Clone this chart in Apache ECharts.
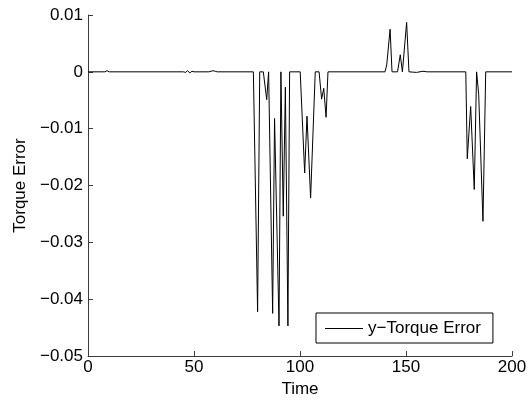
<!DOCTYPE html>
<html>
<head>
<meta charset="utf-8">
<script src="https://cdn.jsdelivr.net/npm/echarts@6/dist/echarts.min.js"></script>
<style>
  html, body { margin: 0; padding: 0; background: #fff; }
  #chart { width: 531px; height: 404px; }
</style>
</head>
<body>
<div id="chart"></div>
<script>
// Sample times and the y-axis torque error recorded at each of them
const time = [
  0, 8, 9, 10, 45, 46, 47, 48, 49, 50, 57, 58, 59, 60, 61,
  78, 80, 81, 82.7, 84.3, 85.2, 87.1, 88, 90.1, 91, 92.1, 93.1, 94.3, 95.1,
  100.1, 102.2, 103.3, 105, 107.2, 109, 110.2, 111.2, 112.3, 113.2,
  140.1, 140.9, 142.5, 143.4, 146, 147.3, 148.3, 150.3, 151.4, 155, 158, 160,
  178.2, 178.9, 180.5, 182.2, 183.3, 184.3, 186.3, 187.6, 200
];
const torqueErr = [
  0, 0, 0.0002, 0, 0, -0.0001, 0.0002, -0.0002, 0.0001, 0, 0, 0.0001, 0.0002, 0.0001, 0,
  0, -0.0422, 0, 0, -0.0049, 0, -0.0425, -0.0082, -0.0447, 0, -0.0254, -0.0027, -0.0447, 0,
  0, -0.0178, -0.0078, -0.0222, 0, 0, -0.0048, -0.0029, -0.008, 0,
  0, 0.0012, 0.0075, 0, 0, 0.003, 0, 0.0087, 0, -0.0001, 0.0001, 0,
  0, -0.0153, -0.0061, -0.0207, 0, -0.004, -0.0263, 0, 0
];
const xTicks = [0, 50, 100, 150, 200];
const yTicks = [-0.05, -0.04, -0.03, -0.02, -0.01, 0, 0.01];
const seriesName = 'y\u2212Torque Error';

const points = time.map((t, i) => [t, torqueErr[i]]);
const FONT = '"Liberation Sans", Arial, Helvetica, sans-serif';
const FS = 17;
const axisGray = '#3c3c3c';

function fmtY(v) {
  const r = Math.round(v * 100) / 100;
  if (r === 0) return '0';
  return r.toFixed(2).replace('-', '\u2212');
}

const chart = echarts.init(document.getElementById('chart'), null, { renderer: 'canvas' });
chart.setOption({
  animation: false,
  backgroundColor: '#ffffff',
  grid: { left: 88, right: 19, top: 15, bottom: 48, containLabel: false },
  xAxis: {
    type: 'value',
    min: xTicks[0],
    max: xTicks[xTicks.length - 1],
    interval: xTicks[1] - xTicks[0],
    name: 'Time',
    nameLocation: 'middle',
    nameGap: 25,
    nameTextStyle: { fontFamily: FONT, fontSize: FS, color: '#000' },
    axisLine: { onZero: false, lineStyle: { color: axisGray, width: 1 } },
    axisTick: { inside: true, length: 5, lineStyle: { color: axisGray } },
    axisLabel: { fontFamily: FONT, fontSize: FS, color: '#000', margin: 3 },
    splitLine: { show: false }
  },
  yAxis: {
    type: 'value',
    min: yTicks[0],
    max: yTicks[yTicks.length - 1],
    interval: 0.01,
    name: 'Torque Error',
    nameLocation: 'middle',
    nameGap: 58,
    nameRotate: 90,
    nameTextStyle: { fontFamily: FONT, fontSize: FS, color: '#000' },
    axisLine: { show: true, onZero: false, lineStyle: { color: axisGray, width: 1 } },
    axisTick: { show: true, inside: true, length: 5, lineStyle: { color: axisGray } },
    axisLabel: { fontFamily: FONT, fontSize: FS, color: '#000', margin: 5, formatter: fmtY },
    splitLine: { show: false }
  },
  legend: {
    data: [{ name: seriesName, icon: 'rect' }],
    left: 316,
    top: 313,
    orient: 'horizontal',
    backgroundColor: '#fff',
    borderColor: '#000',
    borderWidth: 1,
    borderRadius: 0,
    padding: [7, 12, 6, 9],
    itemWidth: 38,
    itemHeight: 1,
    itemGap: 4,
    itemStyle: { color: '#000', borderWidth: 0 },
    textStyle: { fontFamily: FONT, fontSize: FS, color: '#000', padding: [0, 0, 0, 0] }
  },
  series: [{
    name: seriesName,
    type: 'line',
    data: points,
    symbol: 'none',
    lineStyle: { color: '#000', width: 1 },
    itemStyle: { color: '#000' }
  }]
});
</script>
</body>
</html>
